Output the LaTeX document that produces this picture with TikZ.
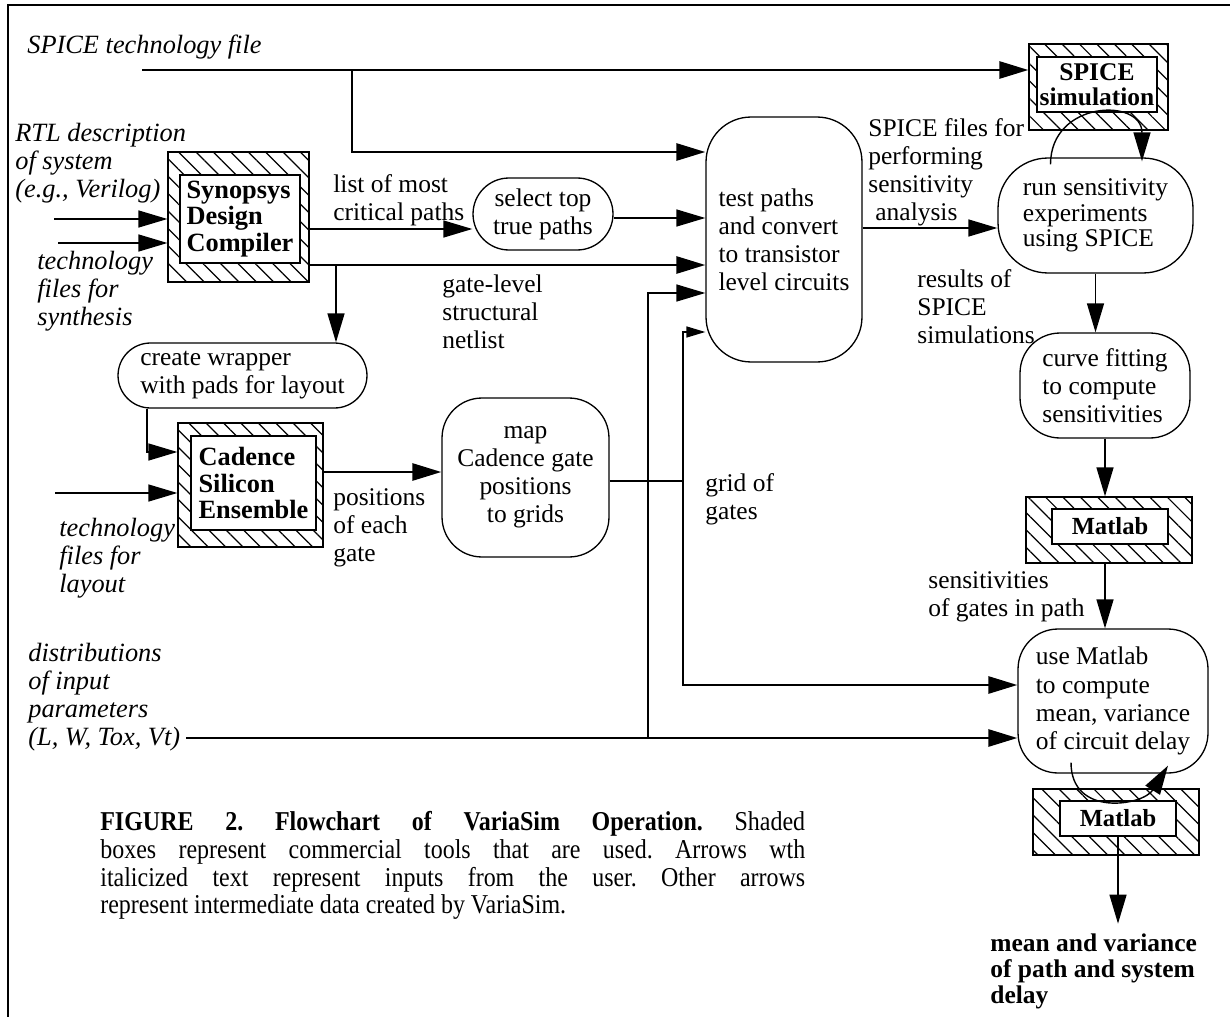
\documentclass[tikz,border=0pt]{standalone}
\usepackage{fontspec}
\setmainfont{Liberation Serif}
\newfontfamily\capfont[FakeStretch=0.88]{Liberation Serif}
\usetikzlibrary{arrows.meta,patterns.meta,positioning}

\tikzset{
  bigarr/.tip={Triangle[length=0.58cm,width=0.34cm]},
  smallarr/.tip={Triangle[length=0.38cm,width=0.22cm]},
  thinl/.style={line width=0.8pt},
  thickl/.style={line width=1.6pt},
  proc/.style={draw, line width=0.75pt, align=left, inner sep=0pt},
  hatchbox/.style={draw, line width=0.75pt, inner sep=0pt,
    pattern={Lines[angle=-45,distance=7pt,line width=0.7pt]}},
  toolbox/.style={draw, fill=white, line width=0.75pt, inner sep=0pt, align=left,
    font=\fontsize{15}{15}\selectfont\bfseries},
  lbl/.style={anchor=north west, inner sep=0pt, align=left},
  inlbl/.style={lbl, font=\fontsize{15}{16}\selectfont\itshape},
}

\begin{document}
\begin{tikzpicture}[x=0.02cm, y=-0.02cm, font=\fontsize{14.5}{16}\selectfont]
  \useasboundingbox (0,0) rectangle (1230,1017);
  % frame
  \draw[line width=1.7pt] (8,1017) -- (8,5) -- (1230,5);

  % commercial tools (shaded)
  \node[hatchbox, minimum width=2.82cm, minimum height=2.6cm] (synO) at (238.5,217) {};
  \node[toolbox, minimum width=2.4cm, minimum height=1.76cm] (syn) at (240,219) {Synopsys\\Design\\Compiler};
  \node[hatchbox, minimum width=2.9cm, minimum height=2.48cm] (cadO) at (250.5,485) {};
  \node[toolbox, minimum width=2.5cm, minimum height=1.88cm] (cad) at (253.5,483) {Cadence\\Silicon\\Ensemble};
  \node[hatchbox, minimum width=2.78cm, minimum height=1.72cm] (spiceO) at (1098.5,87) {};
  \node[toolbox, align=center, font=\fontsize{14.5}{14}\selectfont\bfseries,
    minimum width=2.4cm, minimum height=1.1cm] (spice) at (1097,84.5) {SPICE\\simulation};
  \node[hatchbox, minimum width=3.32cm, minimum height=1.32cm] (matAO) at (1109,530) {};
  \node[toolbox, font=\fontsize{14}{14}\selectfont\bfseries,
    minimum width=2.32cm, minimum height=0.7cm] (matA) at (1110,526.5) {Matlab};
  \node[hatchbox, minimum width=3.32cm, minimum height=1.32cm] (matBO) at (1116,822) {};
  \node[toolbox, font=\fontsize{14}{14}\selectfont\bfseries,
    minimum width=2.32cm, minimum height=0.7cm] (matB) at (1118,818.5) {Matlab};

  % VariaSim steps
  \node[proc, align=center, rounded corners=0.72cm, minimum width=2.8cm, minimum height=1.44cm] (selTop) at (543,214) {select top\\true paths};
  \node[proc, rounded corners=0.65cm, minimum width=4.98cm, minimum height=1.3cm] (cw) at (242.5,375.5) {create wrapper\\with pads for layout};
  \node[proc, rounded corners=0.9cm, minimum width=3.12cm, minimum height=4.9cm] (testP) at (784,239.5) {test paths\\and convert\\to transistor\\level circuits};
  \node[proc, align=center, rounded corners=0.8cm, minimum width=3.34cm, minimum height=3.18cm] (map) at (525.5,477.5) {map\\Cadence gate\\positions\\to grids};
  \node[proc, font=\fontsize{14.5}{14.5}\selectfont, rounded corners=1cm, minimum width=3.9cm, minimum height=2.3cm] (runS) at (1095.5,215.5) {run sensitivity\\experiments\\using SPICE};
  \node[proc, rounded corners=0.8cm, minimum width=3.4cm, minimum height=2.1cm] (curve) at (1105,385.5) {curve fitting\\to compute\\sensitivities};
  \node[proc, rounded corners=0.8cm, minimum width=3.8cm, minimum height=2.88cm] (useM) at (1113,701) {use Matlab\\to compute\\mean, variance\\of circuit delay};

  % user inputs
  \node[inlbl, anchor=west] (spTxt) at (27,47) {SPICE technology file};
  \node[inlbl] (rtl) at (15,123) {RTL description\\of system\\(e.g., Verilog)};
  \node[inlbl] (tSyn) at (37,251) {technology\\files for\\synthesis};
  \node[inlbl] (tLay) at (59,518) {technology\\files for\\layout};
  \node[inlbl] (dist) at (28,643) {distributions\\of input\\parameters\\(L, W, Tox, Vt)};

  % data labels
  \node[lbl] (listL) at (333,174) {list of most\\critical paths};
  \node[lbl] (glL) at (442,274) {gate-level\\structural\\netlist};
  \node[lbl] (posL) at (333,488) {positions\\of each\\gate};
  \node[lbl] (gridL) at (705,473) {grid of\\gates};
  \node[lbl] (spfL) at (868,118) {SPICE files for\\performing\\sensitivity\\\hspace*{4pt}analysis};
  \node[lbl] (resL) at (917,269) {results of\\SPICE\\simulations};
  \node[lbl] (sensL) at (928,571) {sensitivities\\of gates in path};
  \node[lbl, font=\fontsize{14.5}{15}\selectfont\bfseries] (outL) at (990,933) {mean and variance\\of path and system\\delay};

  \node[lbl, text width=14.1cm, align=justify, font=\capfont\fontsize{15.5}{15.8}\selectfont\frenchspacing] (cap) at (100,811)
    {\textbf{FIGURE 2. Flowchart of VariaSim Operation.} Shaded\linebreak
     boxes represent commercial tools that are used. Arrows wth\linebreak
     italicized text represent inputs from the user. Other arrows\linebreak
     represent intermediate data created by VariaSim.};

  % connectors
  \coordinate (spIn) at (142,70);
  \coordinate (spBr) at (352,70);
  \coordinate (rtlIn) at (54,219);
  \coordinate (tsIn) at (58,243);
  \coordinate (tlIn) at (55,493);
  \coordinate (dIn) at (186,738);
  \coordinate (glBr) at (336,265);
  \coordinate (grJ) at (683,481);
  \coordinate (dBr) at (648,738);

  \draw[thickl, -bigarr] (spIn) -- (spIn -| spiceO.west);
  \draw[thickl, -bigarr] (spBr) |- (testP.west |- 0,152);
  \draw[thinl, -bigarr] (rtlIn) -- (rtlIn -| synO.west);
  \draw[thinl, -bigarr] (tsIn) -- (tsIn -| synO.west);
  \draw[thinl, -bigarr] (synO.east |- 0,229) -- (selTop.west |- 0,229);
  \draw[thinl, -bigarr] (selTop.east |- 0,218) -- (testP.west |- 0,218);
  \draw[thickl, -bigarr] (synO.east |- 0,265) -- (testP.west |- 0,265);
  \draw[thinl, -bigarr] (glBr) -- (glBr |- cw.north);
  \draw[thinl, -bigarr] (cw.south -| 147,0) |- (cadO.west |- 0,452);
  \draw[thinl, -bigarr] (tlIn) -- (tlIn -| cadO.west);
  \draw[thickl, -bigarr] (cadO.east |- 0,472) -- (map.west |- 0,472);
  \draw[thinl] (map.east |- grJ) -- (grJ);
  \draw[thinl, -smallarr] (grJ) |- (testP.west |- 0,332);
  \draw[thickl, -bigarr] (grJ) |- (useM.west |- 0,685);
  \draw[thickl, -bigarr] (dIn) -- (dIn -| useM.west);
  \draw[thinl, -bigarr] (dBr) |- (testP.west |- 0,293);
  \draw[thinl, -bigarr] (testP.east |- 0,228) -- (runS.west |- 0,228);
  \draw[thinl, -bigarr] (runS.south) -- (runS.south |- curve.north);
  \draw[thinl, -bigarr] (curve.south) -- (curve.south |- matAO.north);
  \draw[thinl, -bigarr] (curve.south |- matAO.south) -- (curve.south |- useM.north);
  \draw[thinl, -bigarr] (matB.south) -- ++(0,-1.74cm);
  % loops through the tools
  \draw[thinl, -bigarr] ([xshift=-0.9cm,yshift=-0.14cm]runS.north)
    .. controls +(0,1.28cm) and +(0,1.28cm) .. ([xshift=0.93cm,yshift=-0.08cm]runS.north);
  \draw[thinl, -bigarr] ([xshift=-0.84cm,yshift=0.22cm]useM.south)
    .. controls +(0,-1.1cm) and +(-0.5cm,-0.8cm) .. ([xshift=1.1cm,yshift=0.16cm]useM.south);
\end{tikzpicture}
\end{document}
